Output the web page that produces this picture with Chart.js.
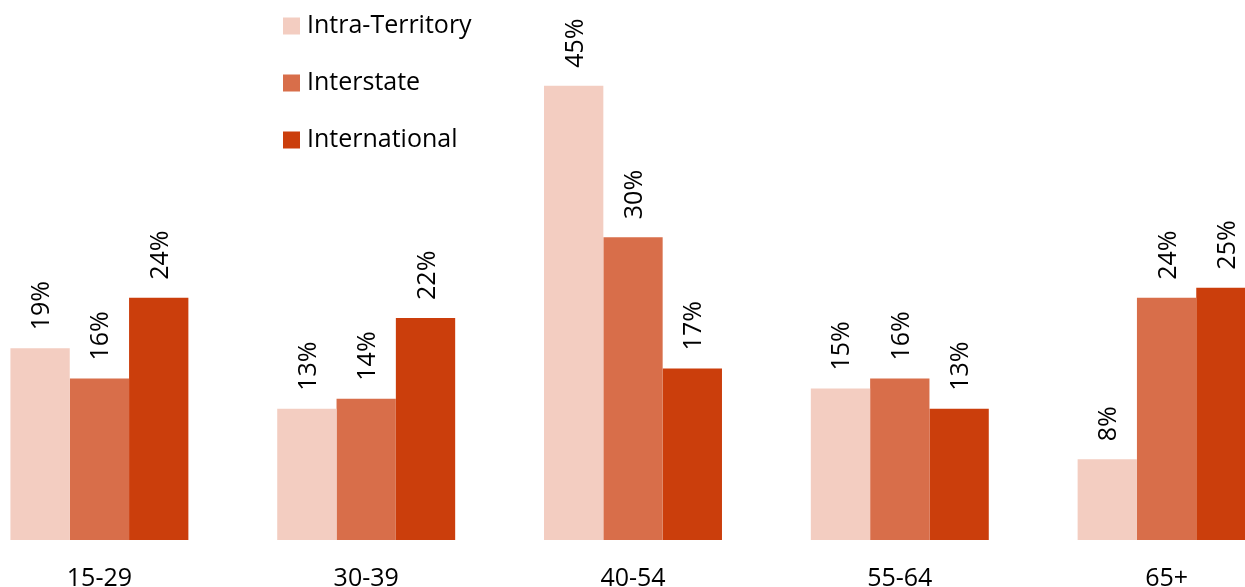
<!DOCTYPE html>
<html>
<head>
<meta charset="utf-8">
<script src="https://cdn.jsdelivr.net/npm/chart.js@4/dist/chart.umd.min.js"></script>
<style>
  html, body { margin: 0; padding: 0; background: #fff; overflow: hidden; }
  #wrap { position: relative; width: 1245px; height: 587px; overflow: hidden; }
  #chart { position: absolute; left: -34px; top: 0; }
</style>
</head>
<body>
<div id="wrap"><canvas id="chart" width="1334" height="587"></canvas></div>
<script>
const ageGroups = ["15-29", "30-39", "40-54", "55-64", "65+"];
const intraTerritory = [19, 13, 45, 15, 8];
const interstate = [16, 14, 30, 16, 24];
const international = [24, 22, 17, 13, 25];

const FONT = "'Open Sans', sans-serif";

// percentage written sideways above each bar
const barLabels = {
  id: "barLabels",
  afterDatasetsDraw(chart) {
    const ctx = chart.ctx;
    ctx.save();
    ctx.font = "25px " + FONT;
    ctx.fillStyle = "#000";
    ctx.textAlign = "left";
    ctx.textBaseline = "alphabetic";
    chart.data.datasets.forEach((ds, i) => {
      chart.getDatasetMeta(i).data.forEach((bar, j) => {
        ctx.save();
        ctx.translate(bar.x + 9, bar.y - 18);
        ctx.rotate(-Math.PI / 2);
        ctx.fillText(ds.data[j] + "%", 0, 0);
        ctx.restore();
      });
    });
    ctx.restore();
  }
};

// stacked legend in the upper left
const sideLegend = {
  id: "sideLegend",
  afterDraw(chart) {
    const ctx = chart.ctx;
    ctx.save();
    ctx.font = "25px " + FONT;
    ctx.textBaseline = "middle";
    ctx.textAlign = "left";
    chart.data.datasets.forEach((ds, i) => {
      const y = 26 + i * 57;
      ctx.fillStyle = ds.backgroundColor;
      ctx.fillRect(317, y - 8.5, 17, 17);
      ctx.fillStyle = "#000";
      ctx.fillText(ds.label, 341, y);
    });
    ctx.restore();
  }
};

new Chart(document.getElementById("chart"), {
  type: "bar",
  data: {
    labels: ageGroups,
    datasets: [
      { label: "Intra-Territory", data: intraTerritory, backgroundColor: "#F3CDC1" },
      { label: "Interstate", data: interstate, backgroundColor: "#D86E4A" },
      { label: "International", data: international, backgroundColor: "#CB3E0C" }
    ]
  },
  options: {
    responsive: false,
    animation: false,
    layout: { padding: 0 },
    datasets: { bar: { categoryPercentage: 0.667, barPercentage: 1, borderWidth: 0 } },
    plugins: { legend: { display: false }, tooltip: { enabled: false } },
    scales: {
      x: {
        grid: { display: false, drawTicks: false },
        border: { display: false },
        ticks: { color: "#000", font: { family: FONT, size: 25 }, padding: 24 },
        afterFit(scale) { scale.height = 47; }
      },
      y: { display: false, min: 0, max: 53.5 }
    }
  },
  plugins: [barLabels, sideLegend]
});
</script>
</body>
</html>
